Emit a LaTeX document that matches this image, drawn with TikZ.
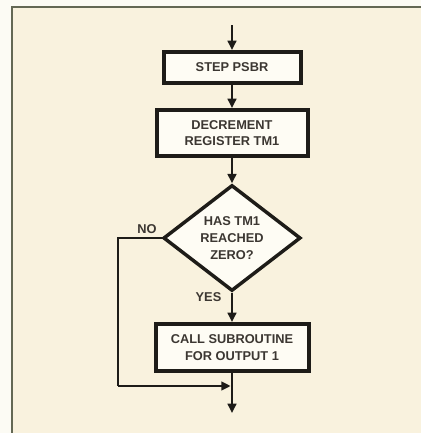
\documentclass[tikz,border=0pt]{standalone}
\usepackage{fontspec}
\setmainfont{Liberation Sans}
\usetikzlibrary{arrows.meta,shapes.geometric}
\definecolor{outside}{RGB}{252,251,244}
\definecolor{bg}{RGB}{249,242,222}
\definecolor{boxfill}{RGB}{254,252,244}
\definecolor{ink}{RGB}{30,28,24}
\definecolor{txt}{RGB}{60,55,50}
\definecolor{framec}{RGB}{100,104,84}
\begin{document}
\begin{tikzpicture}[x=0.75pt,y=-0.75pt,
  every node/.style={text=txt, font=\bfseries\fontsize{9.6}{12.6}\selectfont},
  proc/.style={draw=ink, line width=3pt, fill=boxfill, inner sep=0pt, align=center},
  decision/.style={diamond, draw=ink, line width=2.6pt, fill=boxfill, inner sep=0pt, align=center,
    minimum width=103pt, minimum height=72pt},
  flow/.style={draw=ink, line width=2pt, -{Triangle[length=7pt,width=6.5pt]}},
  plain/.style={draw=ink, line width=2pt}]
\useasboundingbox (0,0) rectangle (421,433);
\fill[outside] (0,0) rectangle (421,433);
\fill[bg] (12,7) rectangle (421,433);
\draw[framec, line width=1.8pt] (12,433) -- (12,7) -- (421,7);

\node[proc, minimum width=102.75pt, minimum height=23.25pt] (b1) at (232,67.5) {STEP PSBR};
\node[proc, minimum width=113.25pt, minimum height=34.5pt] (b2) at (232,133) {DECREMENT\\REGISTER TM1};
\node[decision] (d) at (232,238) {HAS TM1\\REACHED\\ZERO?};
\node[proc, minimum width=114.75pt, minimum height=35.25pt] (b3) at (232,347.5) {CALL SUBROUTINE\\FOR OUTPUT 1};

\coordinate (start) at (232,25);
\coordinate (join) at (232,386);
\coordinate (end) at (232,413);
\coordinate (loop) at (118,386);

\node (no) at (147,229) {NO};
\node[anchor=east] (yes) at (226,297) {YES};

\draw[flow] (start) -- (b1.north);
\draw[flow] (b1.south) -- (b2.north);
\draw[flow] (b2.south) -- (d.north);
\draw[flow] (d.south) -- (b3.north);
\draw[flow] (b3.south) -- (end);
\draw[plain, line join=miter] (d.west) -| (loop);
\draw[flow] (loop) -- ([xshift=-1pt]join);
\end{tikzpicture}
\end{document}
